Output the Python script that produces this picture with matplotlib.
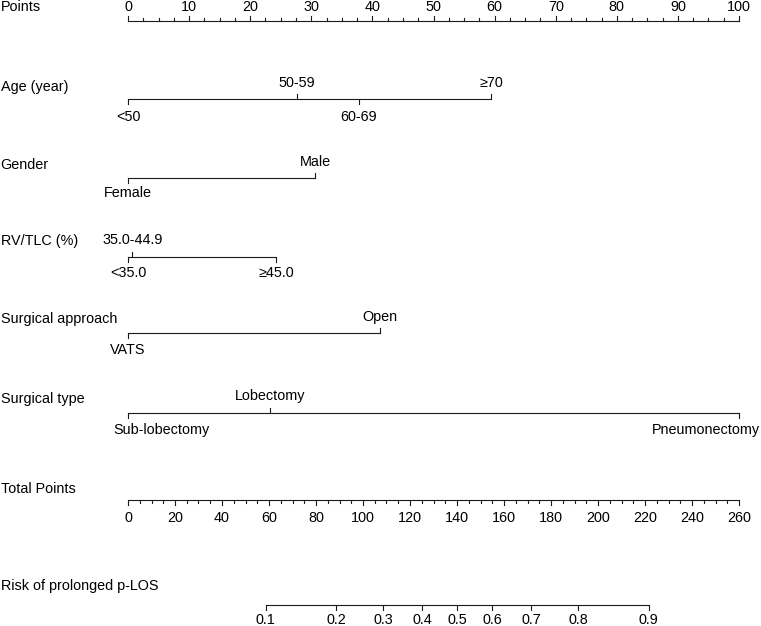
import numpy as np
import matplotlib.pyplot as plt

plt.rcParams['font.family'] = ['Liberation Sans', 'DejaVu Sans']

# --- Data (points scale 0-100) ---
point_ticks = np.arange(0, 101, 10)
total_ticks = np.arange(0, 261, 20)
total_max = 260

age_levels = ['<50', '50-59', '60-69', '≥70']
age_points = [0, 27.7, 37.8, 59.4]
age_above = [False, True, False, True]

gender_levels = ['Female', 'Male']
gender_points = [0, 30.6]
gender_above = [False, True]

rv_levels = ['<35.0', '35.0-44.9', '≥45.0']
rv_points = [0, 0.7, 24.2]
rv_above = [False, True, False]

approach_levels = ['VATS', 'Open']
approach_points = [0, 41.2]
approach_above = [False, True]

type_levels = ['Sub-lobectomy', 'Lobectomy', 'Pneumonectomy']
type_points = [0, 23.2, 100]
type_above = [False, True, False]

risk_labels = ['0.1', '0.2', '0.3', '0.4', '0.5', '0.6', '0.7', '0.8', '0.9']
risk_total = [58.6, 88.6, 108.7, 125.2, 140.1, 155.1, 171.6, 191.6, 221.6]

# --- Layout (y in pixel rows) ---
W, H = 761, 626
x0_px, px_per_pt = 128, 6.11
fs = 10.4
lc = '#1a1a1a'
lw = 0.8

fig = plt.figure(figsize=(W / 100, H / 100), dpi=100)
ax = fig.add_axes([0, 0, 1, 1])
xmin, xmax = -x0_px / px_per_pt, (W - x0_px) / px_per_pt
ax.set_xlim(xmin, xmax)
ax.set_ylim(H, 0)
ax.axis('off')


def name(y, text):
    ax.text(xmin + 0.1, y, text, fontsize=fs, ha='left', va='center')


def level_text(p, y, lev):
    # keep long labels at the ends inside the figure, as the original does
    t = ax.text(p, y, lev, fontsize=fs, ha='center', va='center')
    if lev == 'Sub-lobectomy':
        t.set_x(xmin + 113 / px_per_pt)
        t.set_ha('left')
    elif lev == 'Pneumonectomy':
        t.set_x(xmax - 0.1)
        t.set_ha('right')


def variable(y, title_y, title, levels, pts, above, lab_up, lab_down):
    name(title_y, title)
    ax.plot([min(pts), max(pts)], [y, y], color=lc, lw=lw)
    for lev, p, up in zip(levels, pts, above):
        if up:
            ax.plot([p, p], [y, y - 5], color=lc, lw=lw)
            level_text(p, lab_up, lev)
        else:
            ax.plot([p, p], [y, y + 5], color=lc, lw=lw)
            level_text(p, lab_down, lev)


# Points axis
name(7, 'Points')
ax.plot([0, 100], [21, 21], color=lc, lw=lw)
for t in np.arange(0, 100.01, 2.5):
    ln = 5 if t % 10 == 0 else 3
    ax.plot([t, t], [21, 21 - ln], color=lc, lw=lw)
for t in point_ticks:
    ax.text(t, 7, str(t), fontsize=fs, ha='center', va='center')

variable(99, 87, 'Age (year)', age_levels, age_points, age_above, 83, 117)
variable(178, 165, 'Gender', gender_levels, gender_points, gender_above, 162, 193)
variable(257, 241, 'RV/TLC (%)', rv_levels, rv_points, rv_above, 240, 273)
variable(333, 319, 'Surgical approach', approach_levels, approach_points, approach_above, 317, 350)
variable(413, 399, 'Surgical type', type_levels, type_points, type_above, 396, 430)

# Total points axis
scale = 100 / total_max
name(489, 'Total Points')
ax.plot([0, 100], [500, 500], color=lc, lw=lw)
for t in np.arange(0, total_max + 0.01, 5):
    ln = 5 if t % 20 == 0 else 3
    ax.plot([t * scale, t * scale], [500, 500 + ln], color=lc, lw=lw)
for t in total_ticks:
    ax.text(t * scale, 518, str(t), fontsize=fs, ha='center', va='center')

# Risk axis
name(586, 'Risk of prolonged p-LOS')
rx = [t * scale for t in risk_total]
ax.plot([rx[0], rx[-1]], [605, 605], color=lc, lw=lw)
for x, lab in zip(rx, risk_labels):
    ax.plot([x, x], [605, 610], color=lc, lw=lw)
    ax.text(x, 620, lab, fontsize=fs, ha='center', va='center')

fig.savefig('out.png', dpi=100)
